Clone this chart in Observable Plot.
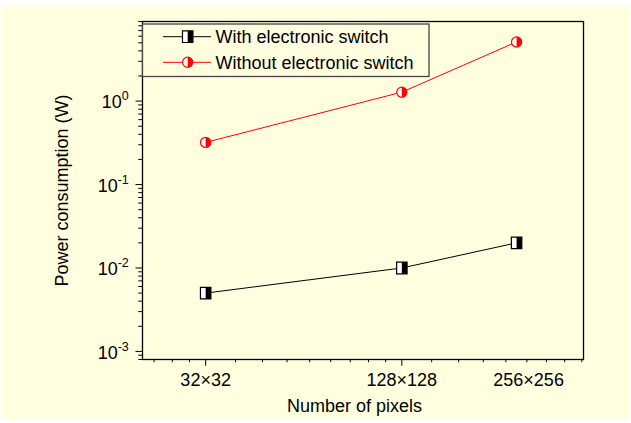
<!DOCTYPE html>
<html>
<head>
<meta charset="utf-8">
<script src="https://cdn.jsdelivr.net/npm/d3@7"></script>
<script src="https://cdn.jsdelivr.net/npm/@observablehq/plot@0.6"></script>
<style>
  html, body { margin: 0; padding: 0; background: #fff; }
  #wrap { position: relative; width: 631px; height: 423px; overflow: hidden; }
  #paper { position: absolute; left: 2px; top: 5px; right: 2px; bottom: 3px; background: #FFFFE0; }
  #chart { position: absolute; left: 0; top: 0; }
</style>
</head>
<body>
<div id="wrap"><div id="paper"></div><div id="chart"></div></div>
<script>
// Array sizes (x positions are the sample index on a log axis)
const pixelLabels = ["32×32", "128×128", "256×256"];
const sampleIndex = [1, 2, 3];

// Power consumption in watts
const withSwitch = [0.005, 0.01, 0.02];
const withoutSwitch = [0.32, 1.28, 5.12];

const seriesNames = ["With electronic switch", "Without electronic switch"];
const seriesColors = ["#000000", "#FF0000"];

// Axis ticks
const yMajor = [1, 0.1, 0.01, 0.001];
const xMajor = [1, 2];

const xDomain = [0.8, 3.8];
const yDomain = [0.0008, 9];

// minor ticks: 2..9 per decade on y, 8 evenly spaced steps per doubling on x
const yMinor = [];
for (let e = -4; e <= 0; e++) for (let k = 2; k <= 9; k++) {
  const v = k * Math.pow(10, e);
  if (v >= yDomain[0] && v <= yDomain[1]) yMinor.push(v);
}
const xMinor = [];
for (const b of [0.5, 1, 2]) for (let k = 1; k <= 8; k++) {
  const v = b + k * b / 9;
  if (v >= xDomain[0] && v <= xDomain[1]) xMinor.push(v);
}

const rows = [];
sampleIndex.forEach((x, i) => {
  rows.push({series: seriesNames[0], x, y: withSwitch[i]});
  rows.push({series: seriesNames[1], x, y: withoutSwitch[i]});
});
const labelRows = sampleIndex.map((x, i) => ({x, label: pixelLabels[i]}));

// half-filled marker shapes
const squareOutline = {draw(ctx, size) {
  const r = Math.sqrt(size / Math.PI), w = r * 0.9;
  ctx.moveTo(-w, -r); ctx.lineTo(w, -r); ctx.lineTo(w, r); ctx.lineTo(-w, r); ctx.closePath();
}};
const squareRight = {draw(ctx, size) {
  const r = Math.sqrt(size / Math.PI), w = r * 0.9;
  ctx.moveTo(0, -r); ctx.lineTo(w, -r); ctx.lineTo(w, r); ctx.lineTo(0, r); ctx.closePath();
}};
const circleOutline = {draw(ctx, size) {
  const r = Math.sqrt(size / Math.PI);
  ctx.moveTo(r, 0); ctx.arc(0, 0, r, 0, 2 * Math.PI);
}};
const circleRight = {draw(ctx, size) {
  const r = Math.sqrt(size / Math.PI);
  ctx.moveTo(0, -r); ctx.arc(0, 0, r, -Math.PI / 2, Math.PI / 2); ctx.closePath();
}};

const sq = rows.filter(d => d.series === seriesNames[0]);
const ci = rows.filter(d => d.series === seriesNames[1]);
const font = "'Liberation Sans', Arial, Helvetica, sans-serif";

const chart = Plot.plot({
  width: 631,
  height: 423,
  marginLeft: 142,
  marginRight: 48,
  marginTop: 21,
  marginBottom: 64,
  style: {background: "transparent", fontFamily: font, fontSize: "18px", color: "#000", overflow: "visible"},
  x: {type: "log", domain: xDomain},
  y: {type: "log", domain: yDomain},
  marks: [
    Plot.axisY(yMinor, {anchor: "left", tickSize: 3.7, tickFormat: () => "", label: null}),
    Plot.axisY(yMajor, {anchor: "left", tickSize: 6.5, tickFormat: () => "", label: null}),
    Plot.axisX(xMinor, {anchor: "bottom", tickSize: 3.2, tickFormat: () => "", label: null}),
    Plot.axisX(xMajor, {anchor: "bottom", tickSize: 6.7, tickFormat: () => "", label: null}),
    Plot.text(yMajor, {
      y: d => d, frameAnchor: "left", dx: -13.7, dy: 1.5, textAnchor: "end", lineAnchor: "middle",
      fontSize: 18, text: d => "10^" + Math.round(Math.log10(d))
    }),
    Plot.text(labelRows.slice(0, 2), {x: "x", text: "label", frameAnchor: "bottom", dy: 21, lineAnchor: "middle", fontSize: 18}),
    Plot.text(labelRows.slice(2), {x: "x", text: "label", frameAnchor: "bottom", dy: 21, dx: 12, lineAnchor: "middle", fontSize: 18}),
    Plot.text(["Number of pixels"], {frameAnchor: "bottom", dy: 47, dx: -8.5, lineAnchor: "middle", fontSize: 18}),
    Plot.text(["Power consumption (W)"], {frameAnchor: "left", dx: -80, rotate: -90, textAnchor: "middle", lineAnchor: "middle", fontSize: 18}),
    Plot.frame({stroke: "#000", strokeWidth: 1.3}),
    Plot.line(sq, {x: "x", y: "y", stroke: seriesColors[0], strokeWidth: 1}),
    Plot.line(ci, {x: "x", y: "y", stroke: seriesColors[1], strokeWidth: 1}),
    Plot.dot(sq, {x: "x", y: "y", symbol: squareOutline, r: 5.8, fill: "#fff", stroke: seriesColors[0], strokeWidth: 1.2}),
    Plot.dot(sq, {x: "x", y: "y", symbol: squareRight, r: 5.8, fill: seriesColors[0], stroke: "none"}),
    Plot.dot(ci, {x: "x", y: "y", symbol: circleOutline, r: 5.1, fill: "#fff", stroke: seriesColors[1], strokeWidth: 1.2}),
    Plot.dot(ci, {x: "x", y: "y", symbol: circleRight, r: 5.1, fill: seriesColors[1], stroke: "none"})
  ]
});

// exponents as superscripts on the y tick labels
d3.select(chart).selectAll("text").each(function () {
  const s = this.textContent;
  if (!/^10\^-?\d+$/.test(s)) return;
  const [base, exp] = s.split("^");
  const t = d3.select(this);
  t.text(base);
  t.append("tspan").attr("dy", -8).attr("font-size", 12.5).text(exp);
});

// legend box
const svg = d3.select(chart);
const lg = svg.append("g").attr("font-family", font).attr("font-size", 18).attr("text-anchor", "start");
lg.append("rect").attr("x", 142.5).attr("y", 24).attr("width", 286.5).attr("height", 52.5)
  .attr("fill", "#FFFFE0").attr("stroke", "#444").attr("stroke-width", 1.3);
const shapes = [[squareOutline, squareRight, 5.8], [circleOutline, circleRight, 5.1]];
seriesNames.forEach((name, i) => {
  const cy = i === 0 ? 36.7 : 62.3;
  const [outline, half, r] = shapes[i];
  const size = r * r * Math.PI;
  lg.append("line").attr("x1", 163).attr("x2", 211).attr("y1", cy).attr("y2", cy)
    .attr("stroke", seriesColors[i]).attr("stroke-width", 1);
  const p1 = d3.path(); outline.draw(p1, size);
  const p2 = d3.path(); half.draw(p2, size);
  lg.append("path").attr("d", p1.toString()).attr("transform", `translate(187.7,${cy})`)
    .attr("fill", "#fff").attr("stroke", seriesColors[i]).attr("stroke-width", 1.2);
  lg.append("path").attr("d", p2.toString()).attr("transform", `translate(187.7,${cy})`)
    .attr("fill", seriesColors[i]);
  lg.append("text").attr("x", 215.5).attr("y", cy + 6.2).attr("fill", "#000")
    .attr("text-anchor", "start").text(name);
});

document.getElementById("chart").appendChild(chart);
</script>
</body>
</html>
